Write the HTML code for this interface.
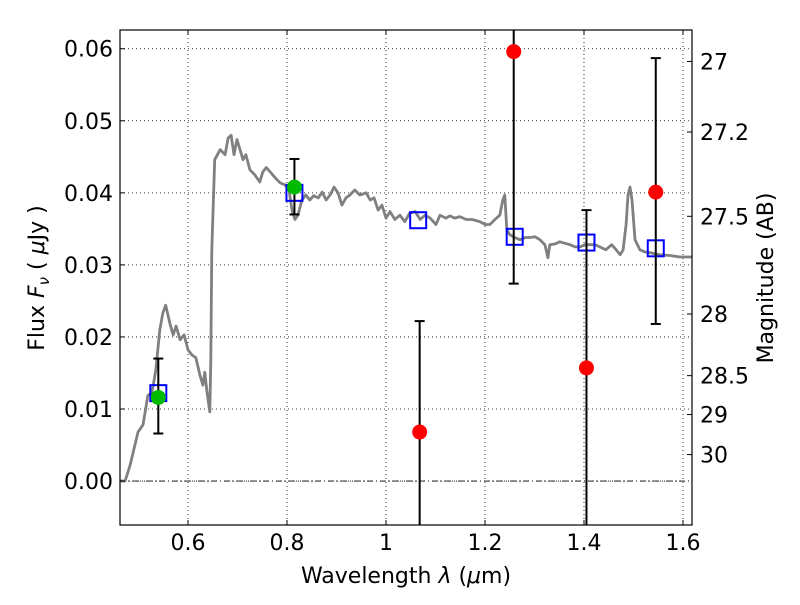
<!DOCTYPE html>
<html><head><meta charset="utf-8"><style>
body{margin:0;background:#fff;}
svg text{font-family:"DejaVu Sans","Liberation Sans",sans-serif;fill:#000;}
</style></head><body>
<svg id="chart" width="800" height="600" viewBox="0 0 800 600" xmlns="http://www.w3.org/2000/svg">
<rect x="0" y="0" width="800" height="600" fill="#fff"/>
<g id="grid"></g>
<g id="marks"></g>
<rect x="120" y="30" width="572" height="495" fill="none" stroke="#000" stroke-width="1.2"/>
<g id="axes"></g>
<text x="406" y="583" font-size="22" text-anchor="middle">Wavelength  <tspan font-style="italic">λ</tspan> (<tspan font-style="italic">μ</tspan>m)</text>
<text transform="translate(44,278) rotate(-90)" font-size="22" text-anchor="middle">Flux  <tspan font-style="italic">F</tspan><tspan font-size="15" dy="5" font-style="italic">ν</tspan><tspan dy="-5">  (  </tspan><tspan font-style="italic">μ</tspan>Jy )</text>
<text transform="translate(773,278) rotate(-90)" font-size="22" text-anchor="middle">Magnitude (AB)</text>
</svg>
<script>
const specWave=[0.463,0.473,0.483,0.499,0.509,0.519,0.527,0.535,0.543,0.549,0.555,0.564,0.570,0.576,0.584,0.592,0.600,0.608,0.616,0.624,0.630,0.634,0.638,0.644,0.646,0.648,0.654,0.665,0.675,0.681,0.687,0.693,0.699,0.705,0.711,0.717,0.725,0.735,0.745,0.751,0.758,0.766,0.776,0.786,0.796,0.804,0.810,0.816,0.822,0.830,0.838,0.846,0.854,0.863,0.871,0.879,0.887,0.895,0.903,0.911,0.919,0.927,0.937,0.947,0.960,0.968,0.976,0.984,0.992,1.000,1.008,1.018,1.028,1.038,1.048,1.059,1.069,1.079,1.089,1.101,1.109,1.121,1.129,1.139,1.149,1.162,1.174,1.190,1.200,1.210,1.220,1.230,1.236,1.240,1.244,1.250,1.260,1.271,1.281,1.291,1.301,1.311,1.321,1.327,1.331,1.341,1.351,1.372,1.382,1.392,1.402,1.412,1.422,1.432,1.444,1.456,1.465,1.473,1.479,1.485,1.489,1.493,1.497,1.503,1.513,1.523,1.533,1.553,1.574,1.594,1.618];
const specFlux=[0,0,0.0022,0.0068,0.0078,0.0119,0.0122,0.0154,0.0210,0.0233,0.0244,0.0217,0.0203,0.0215,0.0196,0.0203,0.0182,0.0175,0.0171,0.0147,0.0133,0.0151,0.0126,0.0096,0.0168,0.0321,0.0446,0.0460,0.0453,0.0476,0.0480,0.0453,0.0474,0.0460,0.0446,0.0453,0.0432,0.0425,0.0415,0.0429,0.0435,0.0429,0.0421,0.0414,0.0411,0.0404,0.0376,0.0363,0.0369,0.0390,0.0397,0.0390,0.0396,0.0393,0.0401,0.0390,0.0397,0.0408,0.0400,0.0383,0.0393,0.0397,0.0404,0.0397,0.0400,0.0390,0.0393,0.0376,0.0383,0.0365,0.0374,0.0363,0.0369,0.0360,0.0372,0.0374,0.0363,0.0369,0.0365,0.0356,0.0369,0.0365,0.0368,0.0365,0.0367,0.0363,0.0363,0.0360,0.0356,0.0356,0.0363,0.0369,0.0390,0.0397,0.0349,0.0342,0.0338,0.0335,0.0338,0.0338,0.0339,0.0335,0.0328,0.0310,0.0328,0.0329,0.0332,0.0328,0.0325,0.0325,0.0328,0.0328,0.0328,0.0325,0.0321,0.0328,0.0321,0.0314,0.0321,0.0356,0.0397,0.0408,0.0390,0.0335,0.0321,0.0318,0.0317,0.0314,0.0313,0.0311,0.0311];
const modelWave=[0.54,0.815,1.065,1.26,1.405,1.545];
const modelFlux=[0.0122,0.0400,0.0362,0.0339,0.0331,0.0323];
const obsWave=[0.54,0.815,1.068,1.258,1.405,1.545];
const obsFlux=[0.0116,0.0408,0.0068,0.0596,0.0157,0.0401];
const obsLow=[0.0066,0.0370,-0.0070,0.0274,-0.0070,0.0218];
const obsHigh=[0.0170,0.0447,0.0222,0.0700,0.0376,0.0587];
const obsDetected=[true,true,false,false,false,false];
const xTicks=[0.6,0.8,1.0,1.2,1.4,1.6];
const xTickLabels=["0.6","0.8","1","1.2","1.4","1.6"];
const yTicks=[0,0.01,0.02,0.03,0.04,0.05,0.06];
const yTickLabels=["0.00","0.01","0.02","0.03","0.04","0.05","0.06"];
const magTicks=[27,27.2,27.5,28,28.5,29,30];
const magTickLabels=["27","27.2","27.5","28","28.5","29","30"];

const X0=120,X1=692,Y0=30,Y1=525;
const xMin=0.4626,xMax=1.6182,yMin=-0.0061,yMax=0.0626;
const sx=v=>X0+(v-xMin)/(xMax-xMin)*(X1-X0);
const sy=v=>Y1-(v-yMin)/(yMax-yMin)*(Y1-Y0);
const magToFlux=m=>Math.pow(10,-0.4*(m-23.913));
const NS="http://www.w3.org/2000/svg";
function mk(tag,attrs,parent){const e=document.createElementNS(NS,tag);for(const k in attrs)e.setAttribute(k,attrs[k]);parent.appendChild(e);return e;}
const grid=document.getElementById('grid'),marks=document.getElementById('marks'),axes=document.getElementById('axes');

xTicks.forEach((t,i)=>{
  const x=sx(t);
  const g=mk('line',{x1:x,x2:x,y1:Y0,y2:Y1,stroke:'#000','stroke-width':0.8,'stroke-dasharray':'1,3'},grid);
  
  
  mk('line',{x1:x,x2:x,y1:Y1,y2:Y1-5,stroke:'#000'},axes);
  mk('line',{x1:x,x2:x,y1:Y0,y2:Y0+5,stroke:'#000'},axes);
  const tx=mk('text',{x:x,y:Y1+25,'font-size':22,'text-anchor':'middle'},axes);
  tx.textContent=xTickLabels[i];
  
  
});
yTicks.forEach((t,i)=>{
  const y=sy(t);
  const g=mk('line',{x1:X0,x2:X1,y1:y,y2:y,stroke:'#000','stroke-width':0.8,'stroke-dasharray':'1,3'},grid);
  
  
  mk('line',{x1:X0,x2:X0+5,y1:y,y2:y,stroke:'#000'},axes);
  const tx=mk('text',{x:X0-7,y:y+8,'font-size':22,'text-anchor':'end'},axes);
  tx.textContent=yTickLabels[i];
  
  
});
magTicks.forEach((m,i)=>{
  const y=sy(magToFlux(m));
  mk('line',{x1:X1,x2:X1-5,y1:y,y2:y,stroke:'#000'},axes);
  const tx=mk('text',{x:X1+8,y:y+8,'font-size':22,'text-anchor':'start'},axes);
  tx.textContent=magTickLabels[i];
  
  
});
const zl=mk('line',{x1:X0,x2:X1,y1:sy(0),y2:sy(0),stroke:'#000','stroke-width':0.8,'stroke-dasharray':'6,3,1,3'},marks);



const clip=mk('clipPath',{id:'pc'},mk('defs',{},document.getElementById('chart')));
mk('rect',{x:X0,y:Y0,width:X1-X0,height:Y1-Y0},clip);
const body=mk('g',{'clip-path':'url(#pc)'},marks);

const sp=mk('path',{d:specWave.map((w,i)=>(i?'L':'M')+sx(w).toFixed(1)+','+sy(specFlux[i]).toFixed(1)).join(''),fill:'none',stroke:'#808080','stroke-width':2.8,'stroke-linejoin':'round'},body);



modelWave.forEach((w,i)=>{
  const r=mk('rect',{x:sx(w)-8,y:sy(modelFlux[i])-8,width:16,height:16,fill:'none',stroke:'#0000ff','stroke-width':2},body);
  
  
});
obsWave.forEach((w,i)=>{
  const x=sx(w);
  const eb=mk('g',{stroke:'#000','stroke-width':2},body);
  
  
  mk('line',{x1:x,x2:x,y1:sy(obsLow[i]),y2:sy(obsHigh[i])},eb);
  mk('line',{x1:x-5,x2:x+5,y1:sy(obsLow[i]),y2:sy(obsLow[i])},eb);
  mk('line',{x1:x-5,x2:x+5,y1:sy(obsHigh[i]),y2:sy(obsHigh[i])},eb);
  const c=mk('circle',{cx:x,cy:sy(obsFlux[i]),r:7.5,fill:obsDetected[i]?'#00bb00':'#ff0000'},body);
  
  
});
</script>
</body></html>
